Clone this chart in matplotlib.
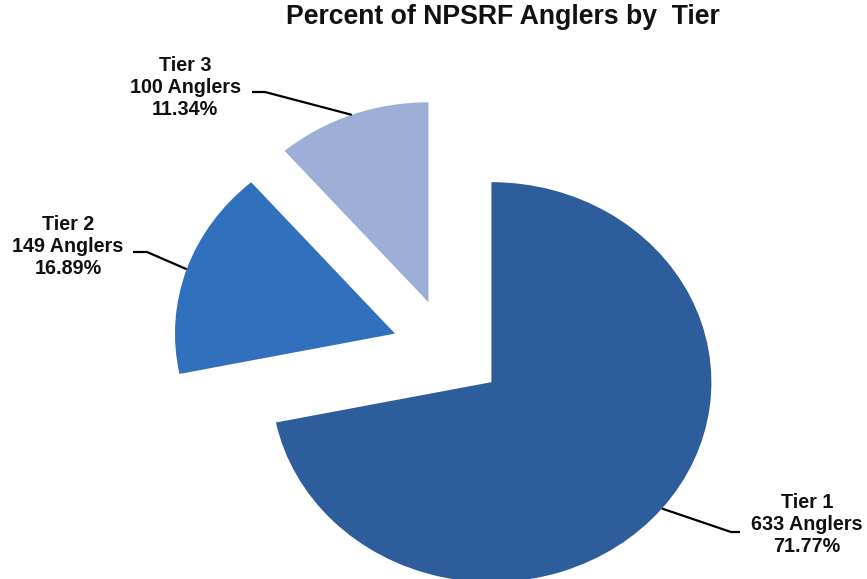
import numpy as np
import matplotlib
matplotlib.use("Agg")
import matplotlib.pyplot as plt

tiers = ["Tier 1", "Tier 2", "Tier 3"]
anglers = [633, 149, 100]
percents = ["71.77%", "16.89%", "11.34%"]
colors = ["#2d5d9b", "#3170bd", "#9dafd6"]

W, H = 867, 579
K = 1.1  # pie is a little wider than tall -> stretch y data units


def yd(img_y):
    # image pixel row -> data y
    return (H - img_y) * K


plt.rcParams['font.family'] = ['Liberation Sans', 'DejaVu Sans']

fig = plt.figure(figsize=(W / 100, H / 100), dpi=100)
ax = fig.add_axes([0, 0, 1, 1])

radius = 220
center = (448, yd(350))
wedges, _ = ax.pie(anglers, colors=colors, startangle=90, counterclock=False,
                   radius=radius, center=center, explode=[56] * 3,
                   wedgeprops=dict(linewidth=0), frame=True)
ax.set_aspect('auto')
ax.set_xlim(0, W)
ax.set_ylim(0, H * K)
ax.axis('off')

# label positions (text centre) and leader elbow
label_pos = [(807, yd(525)), (68, yd(247)), (185, yd(87))]
elbows = [((740, yd(532)), (731, yd(532))),
          ((133, yd(252)), (147, yd(252))),
          ((252, yd(92)), (265, yd(92)))]

for w, name, n, pct, pos, (start, elbow) in zip(wedges, tiers, anglers, percents, label_pos, elbows):
    mid = np.deg2rad((w.theta1 + w.theta2) / 2)
    cx, cy = w.center
    edge = (cx + w.r * np.cos(mid), cy + w.r * np.sin(mid))
    ax.plot([start[0], elbow[0], edge[0]], [start[1], elbow[1], edge[1]],
            color='black', lw=1.6, solid_capstyle='butt')
    ax.text(pos[0], pos[1], f"{name}\n{n} Anglers\n{pct}", ha='center', va='center',
            fontsize=14.2, fontweight='bold', linespacing=1.2, color='#111111')

ax.text(503, yd(17), "Percent of NPSRF Anglers by  Tier", ha='center', va='center',
        fontsize=19.2, fontweight='bold', color='#111111')

fig.savefig("out.png", dpi=100)
